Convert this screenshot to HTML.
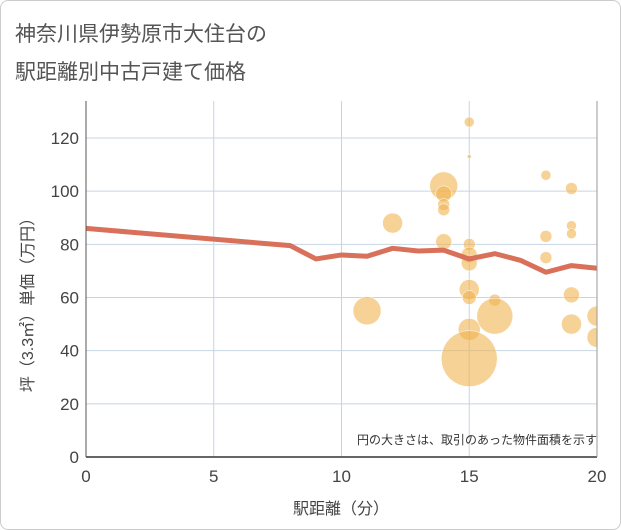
<!DOCTYPE html>
<html><head><meta charset="utf-8"><style>
body{margin:0;background:#fff;font-family:"Liberation Sans","Noto Sans CJK JP",sans-serif;}
#wrap{position:relative;width:619px;height:528px;border:1px solid #ccc;border-radius:8px;overflow:hidden;}
</style></head><body>
<div id="wrap">
<svg width="621" height="530" id="svg">
<defs><clipPath id="pc"><rect x="85" y="90" width="511" height="366"/></clipPath></defs>
<text x="14" y="40" font-size="21" fill="#555">神奈川県伊勢原市大住台の</text>
<text x="14" y="78" font-size="21" fill="#555">駅距離別中古戸建て価格</text>
<g id="grid"></g><g id="bub" clip-path="url(#pc)"></g><g id="ln"></g><g id="ax"></g>
<text x="596" y="443" font-size="12" fill="#333" text-anchor="end">円の大きさは、取引のあった物件面積を示す</text>
<text x="340" y="513" font-size="16" fill="#444" text-anchor="middle">駅距離（分）</text>
<text transform="translate(32,300) rotate(-90)" font-size="16" fill="#444" text-anchor="middle">坪（3.3㎡）単価（万円）</text>
</svg></div>
<script>
const xTicks=[0,5,10,15,20];
const yTicks=[0,20,40,60,80,100,120];
const lineX=[0,8,9,10,11,12,13,14,15,16,17,18,19,20];
const lineY=[86,79.5,74.5,76,75.5,78.5,77.5,77.8,74.5,76.5,74,69.5,72,71];
const bubX=[11,12,14,14,14,14,14,15,15,15,15,15,15,15,15,15,16,16,18,18,18,19,19,19,19,19,20,20];
const bubY=[55,88,102,99,95,93,81,126,113,80,76,73,63,60,48,37,59,53,106,83,75,101,87,84,61,50,53,45];
const bubR=[14,10,14,8,6,6,8,5,2,6,8,8,10,7,11,28,6,18,5,6,6,6,5,5,8,10,10,10];
const X0=85,X1=596,Y0=456,Yt=137;
const sx=v=>X0+(X1-X0)*v/20, sy=v=>Y0-(Y0-Yt)*v/120;
const NS="http://www.w3.org/2000/svg";
function mk(t,p,a){const e=document.createElementNS(NS,t);for(const k in a)e.setAttribute(k,a[k]);p.appendChild(e);return e;}
const g=document.getElementById('grid'),b=document.getElementById('bub'),l=document.getElementById('ln'),ax=document.getElementById('ax');
yTicks.forEach(v=>{if(v>0){const e=mk('line',g,{x1:X0,x2:X1,y1:sy(v),y2:sy(v),stroke:'#c8d4e4','stroke-width':1});

}
const t=mk('text',ax,{x:X0-7,y:sy(v)+6,'font-size':17,fill:'#444','text-anchor':'end'});t.textContent=v;

});
xTicks.forEach(v=>{if(v>0){const e=mk('line',g,{x1:sx(v),x2:sx(v),y1:100,y2:Y0,stroke:'#c8d4e4','stroke-width':1});

}
const t=mk('text',ax,{x:sx(v),y:Y0+25,'font-size':17,fill:'#444','text-anchor':'middle'});t.textContent=v;

});
const a1=mk('line',ax,{x1:X0,x2:X1,y1:Y0,y2:Y0,stroke:'#333','stroke-width':1.5});


const a2=mk('line',ax,{x1:X0,x2:X0,y1:100,y2:Y0,stroke:'#555','stroke-width':1});


const a3=mk('line',ax,{x1:X1,x2:X1,y1:100,y2:Y0,stroke:'#999','stroke-width':1});


bubX.forEach((x,i)=>{const c=mk('circle',b,{cx:sx(x),cy:sy(bubY[i]),r:bubR[i],fill:'rgba(240,180,80,0.6)',stroke:'#fff','stroke-width':0.5});

});
const p=mk('polyline',l,{points:lineX.map((x,i)=>sx(x)+','+sy(lineY[i])).join(' '),fill:'none',stroke:'#d9705a','stroke-width':5,'stroke-linejoin':'round'});


</script></body></html>
